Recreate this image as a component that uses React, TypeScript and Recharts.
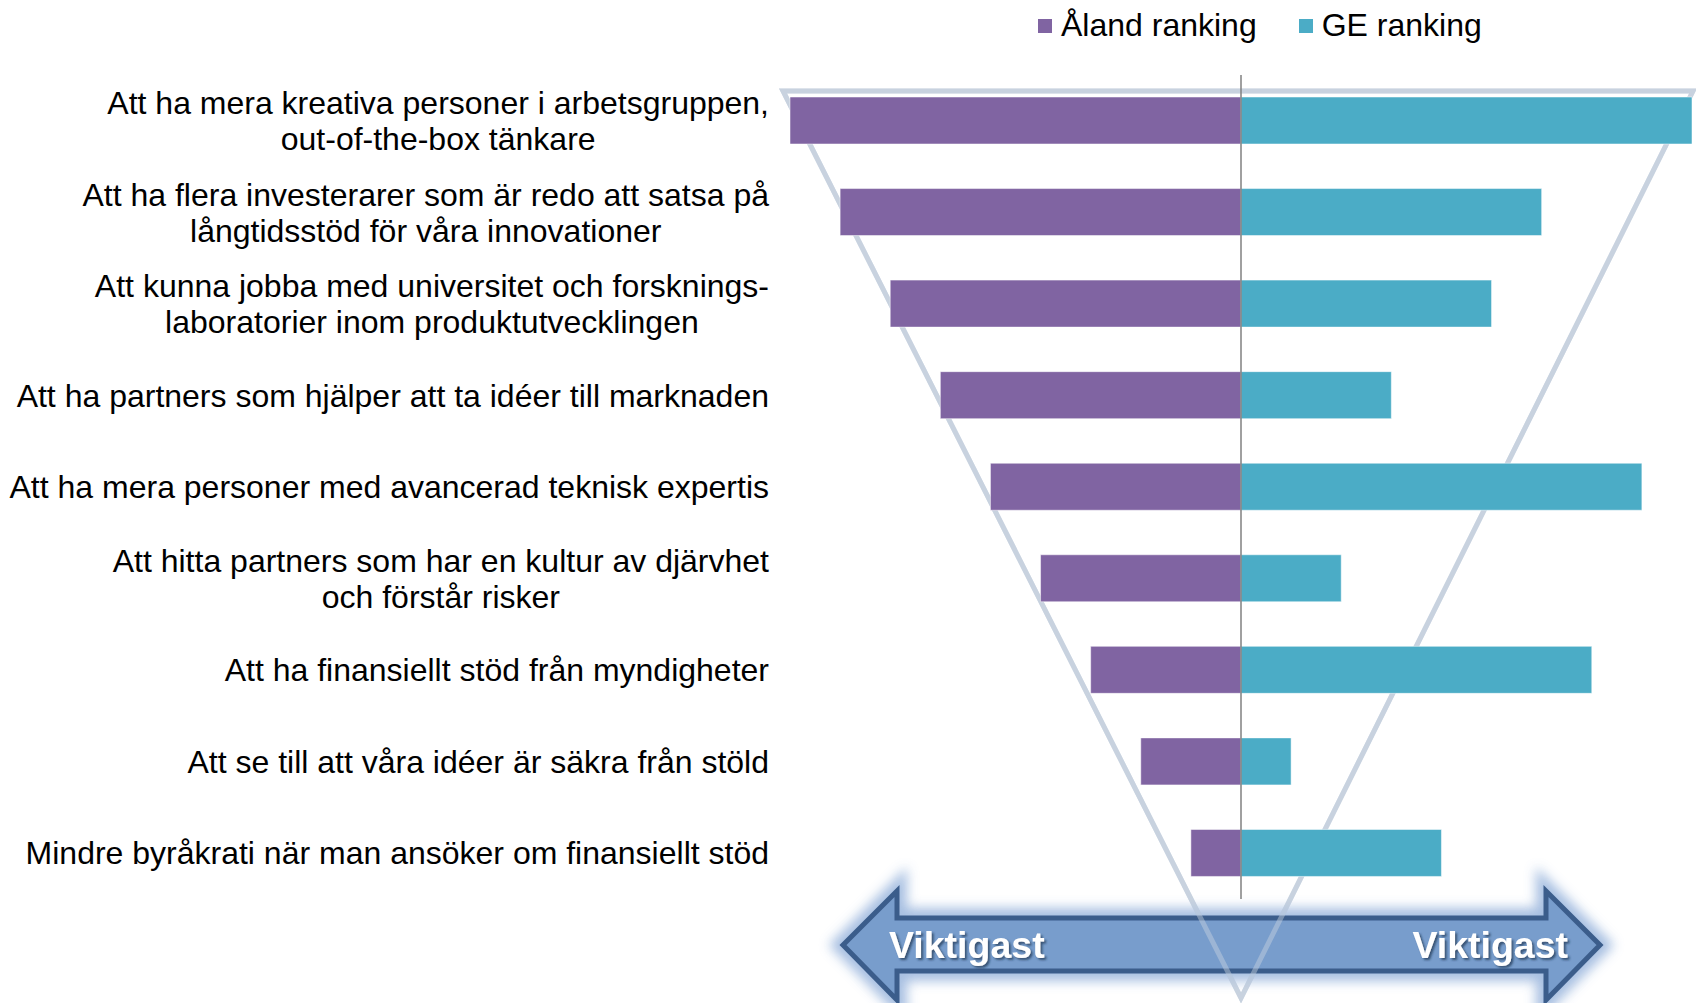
import { BarChart, Bar, XAxis, YAxis, ReferenceLine, Legend } from 'recharts'

const categories = [
  'Att ha mera kreativa personer i arbetsgruppen,\nout-of-the-box tänkare',
  'Att ha flera investerarer som är redo att satsa på\nlångtidsstöd för våra innovationer',
  'Att kunna jobba med universitet och forsknings-\nlaboratorier inom produktutvecklingen',
  'Att ha partners som hjälper att ta idéer till marknaden',
  'Att ha mera personer med avancerad teknisk expertis',
  'Att hitta partners som har en kultur av djärvhet\noch förstår risker',
  'Att ha finansiellt stöd från myndigheter',
  'Att se till att våra idéer är säkra från stöld',
  'Mindre byråkrati när man ansöker om finansiellt stöd',
]
const alandRanking = [9, 8, 7, 6, 5, 4, 3, 2, 1]
const geRanking = [9, 6, 5, 3, 8, 2, 7, 1, 4]
const seriesNames = ['Åland ranking', 'GE ranking']
const arrowLabel = 'Viktigast'

const PURPLE = '#8064a2'
const TEAL = '#4bacc6'
const FONT = '"Liberation Sans", Arial, sans-serif'
const colors = [PURPLE, TEAL]

// Åland goes to the left of the centre line
const data = categories.map((label, i) => ({
  label,
  aland: -alandRanking[i],
  ge: geRanking[i],
}))

let ctx: CanvasRenderingContext2D | null = null
function textWidth(s: string) {
  if (!ctx) ctx = document.createElement('canvas').getContext('2d')
  if (!ctx) return s.length * 15
  ctx.font = `32px ${FONT}`
  return ctx.measureText(s).width
}

function CategoryTick({ x, y, payload }: any) {
  const lines = String(payload.value).split('\n')
  const w = Math.max(...lines.map(textWidth))
  const cx = x - w / 2
  return (
    <text textAnchor="middle" fontSize={32} fontFamily={FONT} fill="#000">
      {lines.map((l, i) => (
        <tspan key={i} x={cx} y={y + (i - (lines.length - 1) / 2) * 36} dy="0.35em">
          {l}
        </tspan>
      ))}
    </text>
  )
}

function LegendContent() {
  return (
    <div style={{ display: 'flex', alignItems: 'center', fontFamily: FONT, fontSize: 32, color: '#000', lineHeight: '37px' }}>
      {seriesNames.map((n, i) => (
        <div key={n} style={{ display: 'flex', alignItems: 'center', marginRight: 42 }}>
          <span style={{ display: 'inline-block', width: 14, height: 14, background: colors[i], marginRight: 9 }} />
          <span>{n}</span>
        </div>
      ))}
    </div>
  )
}

const funnel = 'M783,91 L1693,91 L1241,998 Z'
const arrowPath =
  'M843,945 L897,891 L897,918 L1546,918 L1546,891 L1600,945 L1546,1000 L1546,971 L897,971 L897,1000 Z'

function Backdrop() {
  return (
    <svg width={1696} height={1003} style={{ position: 'absolute', left: 0, top: 0 }}>
      <defs>
        <filter id="glow" x="-10%" y="-50%" width="120%" height="200%">
          <feGaussianBlur stdDeviation="6" />
        </filter>
        <filter id="shadow" x="-10%" y="-30%" width="130%" height="160%">
          <feDropShadow dx="2" dy="2" stdDeviation="1.2" floodColor="#1f3550" floodOpacity="0.7" />
        </filter>
      </defs>
      <path d={funnel} fill="none" stroke="#c8d2df" strokeWidth={5} />
      <path d={arrowPath} fill="none" stroke="#9db8de" strokeWidth={20} filter="url(#glow)" opacity={0.9} />
      <path d={arrowPath} fill="#789dcc" stroke="#3b5d8b" strokeWidth={5} />
      <path d={funnel} fill="none" stroke="#c8d2df" strokeWidth={5} opacity={0.45} />
      <g fontFamily={FONT} fontWeight="bold" fontSize={37.5} fill="#fff" filter="url(#shadow)">
        <text x={889} y={958}>{arrowLabel}</text>
        <text x={1568} y={958} textAnchor="end">{arrowLabel}</text>
      </g>
    </svg>
  )
}

export default function App() {
  return (
    <div style={{ position: 'absolute', left: 0, top: 0, width: 1696, height: 1003, background: '#fff' }}>
      <Backdrop />
      <div style={{ position: 'absolute', left: 0, top: 0 }}>
        <BarChart
          width={1696}
          height={1003}
          data={data}
          layout="vertical"
          stackOffset="sign"
          barSize={47}
          margin={{ top: 75, right: 4, bottom: 104, left: 0 }}
        >
          <XAxis type="number" domain={[-9, 9]} hide />
          <YAxis
            type="category"
            dataKey="label"
            width={790}
            axisLine={false}
            tickLine={false}
            tickSize={0}
            tickMargin={21}
            interval={0}
            tick={<CategoryTick />}
          />
          <Legend
            layout="horizontal"
            verticalAlign="middle"
            align="center"
            content={<LegendContent />}
            wrapperStyle={{ top: 7, left: 1038, width: 640 }}
          />
          <Bar dataKey="aland" name={seriesNames[0]} stackId="rank" fill={PURPLE} stroke="#fff" strokeOpacity={0.5} isAnimationActive={false} />
          <Bar dataKey="ge" name={seriesNames[1]} stackId="rank" fill={TEAL} stroke="#fff" strokeOpacity={0.5} isAnimationActive={false} />
          <ReferenceLine x={0} stroke="#808080" strokeWidth={1.5} />
        </BarChart>
      </div>
    </div>
  )
}
